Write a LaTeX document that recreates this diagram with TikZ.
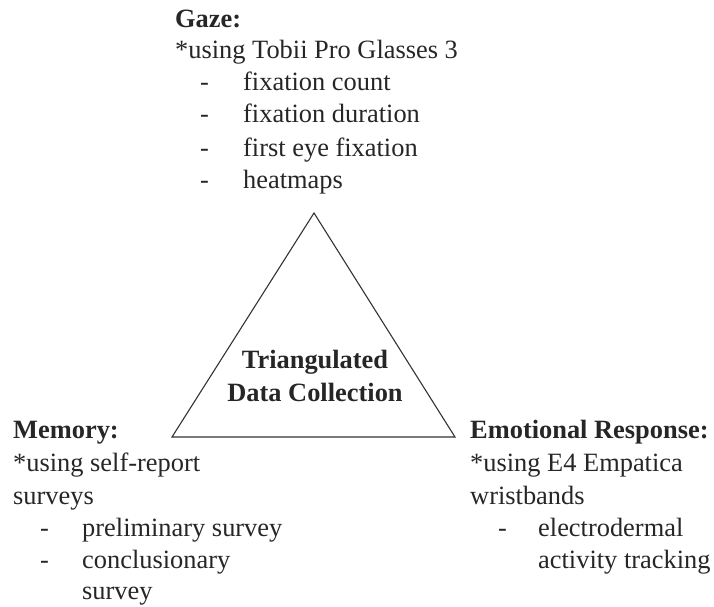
\documentclass[tikz,border=0pt]{standalone}
\usepackage{fontspec}
\setmainfont{Liberation Serif}
\begin{document}
\begin{tikzpicture}[x=1pt,y=-1pt,
  txt/.style={anchor=west,inner sep=0pt,font=\fontsize{26.4}{31.7}\selectfont,text height=18pt,text depth=6pt,text=black!85},
  hd/.style={txt,font=\fontsize{26.4}{31.7}\selectfont\bfseries},
  ctr/.style={inner sep=0pt,font=\fontsize{26.4}{31.7}\selectfont\bfseries,text height=18pt,text depth=6pt,text=black!85},
  tri/.style={draw=black!80,line width=1.1pt,line join=miter}]
\useasboundingbox (0,0) rectangle (714,607);
% triangle
\coordinate (apex) at (314,213);
\coordinate (bl) at (172,437);
\coordinate (br) at (455,437);
\draw[tri] (apex) -- (bl) -- (br) -- cycle;
\node[ctr] (c1) at (315,362) {Triangulated};
\node[ctr] (c2) at (315,395) {Data Collection};
% Gaze
\node[hd] (g0) at (175,22) {Gaze:};
\node[txt] (g1) at (175,53) {*using Tobii Pro Glasses 3};
\node[txt] (gd1) at (200,85) {-};
\node[txt] (g2) at (243,85) {fixation count};
\node[txt] (gd2) at (200,117) {-};
\node[txt] (g3) at (243,117) {fixation duration};
\node[txt] (gd3) at (200,150) {-};
\node[txt] (g4) at (243,150) {first eye fixation};
\node[txt] (gd4) at (200,182) {-};
\node[txt] (g5) at (243,182) {heatmaps};
% Memory
\node[hd] (m0) at (13,432) {Memory:};
\node[txt] (m1) at (13,465) {*using self-report};
\node[txt] (m2) at (13,498) {surveys};
\node[txt] (md1) at (40,530) {-};
\node[txt] (m3) at (82,530) {preliminary survey};
\node[txt] (md2) at (40,562) {-};
\node[txt] (m4) at (82,562) {conclusionary};
\node[txt] (m5) at (82,593) {survey};
% Emotional
\node[hd] (e0) at (470,432) {Emotional Response:};
\node[txt] (e1) at (470,465) {*using E4 Empatica};
\node[txt] (e2) at (470,498) {wristbands};
\node[txt] (ed1) at (498,530) {-};
\node[txt] (e3) at (538,530) {electrodermal};
\node[txt] (e4) at (538,562) {activity tracking};
\end{tikzpicture}
\end{document}
